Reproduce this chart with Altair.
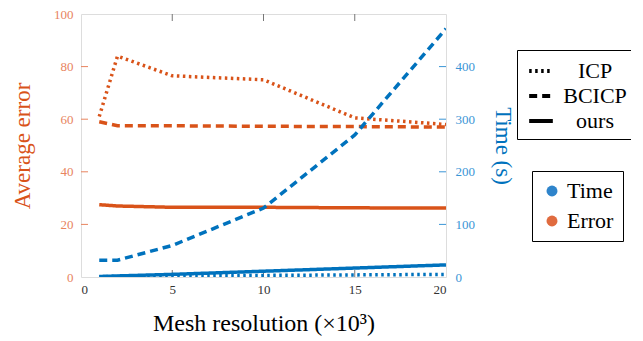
import altair as alt
import pandas as pd

# ---- data ----
res = [1, 2, 5, 10, 15, 20]
err_icp = [61, 84, 76.5, 75, 60.5, 58]
err_bcicp = [59, 57.5, 57.5, 57.3, 57.2, 57]
err_ours = [27.5, 27, 26.5, 26.5, 26.3, 26.2]
time_icp = [0.5, 1, 2, 3, 4, 5]
time_bcicp = [32, 32, 60, 131, 270, 472]
time_ours = [1, 2, 5, 11, 17, 23]

methods = ["ICP", "BCICP", "ours"]
metrics = ["Time", "Error"]
x_ticks = [5, 10, 15]
err_ticks = [20, 40, 60, 80]
time_ticks = [100, 200, 300, 400]

ORANGE = "#D95319"
BLUE = "#0072BD"
ORANGE_L = "#E8845E"
BLUE_L = "#3A95D6"
FONT = "Liberation Serif"

rows = []
for m, e, t in zip(methods, [err_icp, err_bcicp, err_ours], [time_icp, time_bcicp, time_ours]):
    for x, ev, tv in zip(res, e, t):
        rows.append({"res": x, "method": m, "error": ev, "time": tv})
df = pd.DataFrame(rows)

dash_scale = alt.Scale(domain=methods, range=[[2.5, 3.5], [8, 5], [1, 0]])
fill_scale = alt.Scale(domain=metrics, range=["#2E84CB", "#E06B3F"])

x_axis = alt.Axis(values=[0, 5, 10, 15, 20], title="Mesh resolution (×10³)",
                  ticks=False, domain=False, grid=False, labelColor="#333333",
                  labelFont=FONT, titleFont=FONT,
                  labelFontSize=13, labelPadding=6, titleFontSize=24,
                  titlePadding=15, titleFontWeight="normal", titleColor="black")
xenc = alt.X("res:Q", scale=alt.Scale(domain=[0, 20]), axis=x_axis)

err_axis = alt.Axis(orient="left", values=[0, 20, 40, 60, 80, 100], title="Average error",
                    ticks=False, domain=False, grid=False, labelColor=ORANGE_L,
                    labelFont=FONT, titleFont=FONT,
                    labelFontSize=13, labelPadding=8, titleColor=ORANGE,
                    titleFontSize=23, titleFontWeight="normal", titlePadding=19)
time_axis = alt.Axis(orient="right", values=[0, 100, 200, 300, 400], title="Time (s)",
                     ticks=False, domain=False, grid=False, labelColor=BLUE_L,
                     labelFont=FONT, titleFont=FONT,
                     labelFontSize=13, labelPadding=9, titleColor=BLUE,
                     titleFontSize=23, titleFontWeight="normal", titlePadding=16)

dash_legend = alt.Legend(title=None, orient="none", legendX=436, legendY=36,
                         strokeColor="black", padding=7, symbolType="stroke",
                         symbolStrokeColor="black", symbolStrokeWidth=4, symbolSize=560,
                         symbolOffset=3,
                         labelFont=FONT, labelFontSize=22, labelColor="black",
                         labelAlign="center", labelOffset=40, rowPadding=0,
                         labelLimit=200, fillColor="white")
fill_legend = alt.Legend(title=None, orient="none", legendX=451, legendY=157,
                         strokeColor="black", padding=9, symbolType="circle",
                         symbolSize=120, symbolOpacity=1, symbolStrokeWidth=0,
                         labelFont=FONT, labelFontSize=22, labelColor="black",
                         labelOffset=4, rowPadding=8, fillColor="white")

err_lines = alt.Chart(df).mark_line(strokeWidth=3.5, clip=True).encode(
    x=xenc,
    y=alt.Y("error:Q", scale=alt.Scale(domain=[0, 100]), axis=err_axis),
    color=alt.value(ORANGE),
    strokeDash=alt.StrokeDash("method:N", scale=dash_scale, legend=dash_legend),
    detail="method:N",
)

err_pts = alt.Chart(pd.DataFrame({"metric": metrics, "res": [1, 1], "error": [0, 0]})).mark_point(
    filled=True, opacity=0).encode(
    x=xenc,
    y=alt.Y("error:Q", axis=err_axis),
    fill=alt.Fill("metric:N", scale=fill_scale, legend=fill_legend),
)

left_ticks = alt.Chart(pd.DataFrame({"error": err_ticks})).mark_rule(color=ORANGE_L, strokeWidth=1).encode(
    y=alt.Y("error:Q", axis=err_axis), x=alt.value(0), x2=alt.value(7))

bottom_ticks = alt.Chart(pd.DataFrame({"res": x_ticks})).mark_rule(color="#777777", strokeWidth=1).encode(
    x=xenc, y=alt.value(263), y2=alt.value(256))
top_ticks = alt.Chart(pd.DataFrame({"res": x_ticks})).mark_rule(color="#777777", strokeWidth=1).encode(
    x=xenc, y=alt.value(0), y2=alt.value(7))

err_layer = alt.layer(err_lines, err_pts, left_ticks, bottom_ticks, top_ticks)

time_lines = alt.Chart(df).mark_line(strokeWidth=3.5, clip=True).encode(
    x=xenc,
    y=alt.Y("time:Q", scale=alt.Scale(domain=[0, 500]), axis=time_axis),
    color=alt.value(BLUE),
    strokeDash=alt.StrokeDash("method:N", scale=dash_scale, legend=dash_legend),
    detail="method:N",
)
right_ticks = alt.Chart(pd.DataFrame({"time": time_ticks})).mark_rule(color=BLUE_L, strokeWidth=1).encode(
    y=alt.Y("time:Q", axis=time_axis), x=alt.value(358), x2=alt.value(365))
time_layer = alt.layer(time_lines, right_ticks)

chart = alt.layer(err_layer, time_layer).resolve_scale(y="independent").properties(
    width=365, height=263,
    autosize=alt.AutoSizeParams(type="none"),
    padding={"left": 73, "top": 6, "right": 185, "bottom": 62},
).configure_view(stroke="black", strokeWidth=1.2).configure(
    font=FONT, background="white"
)

chart.save("out.html", embed_options={"renderer": "svg", "actions": False})
